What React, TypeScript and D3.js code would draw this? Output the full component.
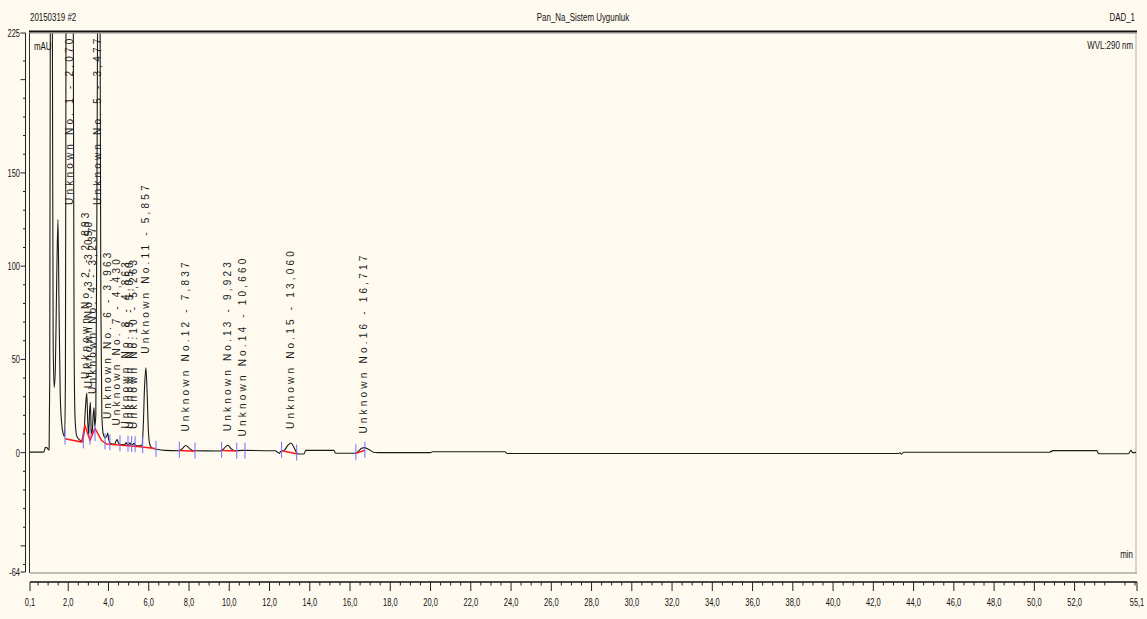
import React, { useEffect, useRef } from "react";
import * as d3 from "d3";

const WIDTH = 1147;
const HEIGHT = 619;

// chromatogram trace, [time (min), signal (mAU)]
const trace: [number, number][] = [
  [0.1, 0.3], [0.75, 0.3], [0.8, 0.6], [0.86, 2.8], [0.95, 2.6], [1.02, 1.4], [1.05, 1.6],
  [1.08, 40], [1.11, 240], [1.16, 420], [1.21, 240], [1.25, 60], [1.3, 35], [1.36, 45],
  [1.43, 95], [1.49, 125], [1.54, 80], [1.6, 32], [1.67, 16], [1.75, 10], [1.82, 8.5],
  [1.86, 40], [1.89, 240], [2.07, 600], [2.25, 240], [2.29, 60], [2.34, 18], [2.42, 9],
  [2.55, 7], [2.7, 6], [2.78, 10], [2.86, 25], [2.92, 32], [2.97, 16], [3.01, 10],
  [3.06, 22], [3.1, 27], [3.14, 12], [3.18, 10], [3.24, 20], [3.28, 24], [3.32, 14],
  [3.37, 20], [3.43, 150], [3.46, 240], [3.52, 400], [3.58, 240], [3.62, 80], [3.67, 20],
  [3.74, 10], [3.84, 8], [3.92, 9], [3.96, 10.5], [4.01, 7], [4.1, 5], [4.3, 4.5],
  [4.38, 6.2], [4.43, 7], [4.5, 5], [4.65, 4.3], [4.82, 4.4], [4.87, 5.4], [4.94, 4.3],
  [5.02, 4.5], [5.06, 5.3], [5.12, 4.3], [5.22, 4.4], [5.27, 5.2], [5.33, 4], [5.5, 3.6],
  [5.65, 3.8], [5.72, 12], [5.79, 35], [5.86, 45.5], [5.92, 32], [5.98, 12], [6.05, 4.5],
  [6.15, 2.5], [6.4, 1.8], [6.8, 1.2], [7.5, 1.0], [7.65, 2.0], [7.84, 3.8], [8.02, 2.3],
  [8.2, 1.0], [9.55, 0.9], [9.72, 2.0], [9.92, 4.0], [10.1, 2.0], [10.3, 1.0], [10.66, 1.2],
  [12.3, 1.0], [12.4, 0.2], [12.48, -0.4], [12.55, 0.6], [12.75, 1.5], [12.92, 4.0],
  [13.06, 5.2], [13.2, 3.2], [13.33, 0.3], [13.42, -0.7], [13.72, -0.7], [13.8, 1.2],
  [15.2, 1.2], [15.28, -0.3], [16.28, -0.3], [16.42, 0.8], [16.58, 2.3], [16.72, 2.7],
  [16.88, 2.0], [17.02, 1.2], [17.15, 0.2], [17.4, 0.0], [20.0, 0.0], [20.1, 0.5],
  [23.7, 0.5], [23.8, -0.5], [43.25, -0.5], [43.32, -0.1], [43.4, -0.8], [43.5, 0.2],
  [50.78, 0.2], [50.82, 0.8], [50.86, 0.5], [50.9, 1.1], [53.1, 1.1], [53.2, -0.6],
  [54.68, -0.6], [54.8, 1.2], [54.88, 0.0], [55.1, 0.2],
];

const peakNames = [
  "Unknown No. 1 - 2,070",
  "Unknown No. 2 - 2,893",
  "Unknown No. 3 - 3,050",
  "Unknown No. 4 - 3,237",
  "Unknown No. 5 - 3,477",
  "Unknown No. 6 - 3,963",
  "Unknown No. 7 - 4,430",
  "Unknown No. 8 - 4,863",
  "Unknown No. 9 - 5,050",
  "Unknown No.10 - 5,263",
  "Unknown No.11 - 5,857",
  "Unknown No.12 - 7,837",
  "Unknown No.13 - 9,923",
  "Unknown No.14 - 10,660",
  "Unknown No.15 - 13,060",
  "Unknown No.16 - 16,717",
];
const peakTimes = [
  2.07, 2.893, 3.05, 3.237, 3.477, 3.963, 4.43, 4.863, 5.05, 5.263, 5.857, 7.837, 9.923,
  10.66, 13.06, 16.717,
];

// integration start / end marks, [time, mAU]
const markerPoints: [number, number][] = [
  [1.84, 8], [2.75, 6], [3.08, 8], [3.33, 10], [3.83, 5.5], [4.07, 5], [4.57, 4.5],
  [4.97, 4.2], [5.15, 4], [5.32, 4], [5.7, 3.5], [6.36, 1.5], [7.52, 1], [8.3, 0.5],
  [9.62, 1], [10.37, 0.5], [10.78, 0.5], [12.6, 1], [13.35, -0.5], [16.29, -0.3], [16.74, 1],
];

// integration baselines
const baselineSegments: [number, number][][] = [
  [[1.84, 7.5], [2.67, 5.7], [2.83, 14.5], [3.08, 6.7], [3.33, 13], [3.66, 6.5], [3.91, 4.6],
    [5.56, 3.2], [6.31, 2.2]],
  [[7.52, 1.2], [8.3, 0.8]],
  [[9.62, 1.2], [10.37, 0.9]],
  [[12.6, 1.0], [13.35, -0.6]],
  [[16.29, -0.4], [16.74, 1.3]],
];

const xTicks = [0.1, 2, 4, 6, 8, 10, 12, 14, 16, 18, 20, 22, 24, 26, 28, 30, 32, 34, 36, 38,
  40, 42, 44, 46, 48, 50, 52, 55.1];
const yLabels = [225, 150, 100, 50, 0, -64];
const yMajor = [225, 200, 150, 100, 50, 0, -50, -64];

const NARROW = "'Liberation Sans Narrow', 'Liberation Sans', Arial, sans-serif";

const App: React.FC = () => {
  const svgRef = useRef<SVGSVGElement | null>(null);

  useEffect(() => {
    if (!svgRef.current) return;
    const svg = d3.select(svgRef.current);
    svg.selectAll("*").remove();

    const left = 30;
    const right = 1137;
    const top = 33;
    const bottom = 572;

    const x = d3.scaleLinear().domain([0.1, 55.1]).range([left, right]);
    const y = d3.scaleLinear().domain([-64, 225]).range([bottom, top]);

    svg.append("rect").attr("width", WIDTH).attr("height", HEIGHT).attr("fill", "#fffaf0");

    // narrow text helper
    const narrow = (
      g: any,
      tx: number,
      ty: number,
      txt: string,
      anchor: string,
      size = 11,
      sx = 0.72
    ) =>
      g
        .append("text")
        .attr("transform", `translate(${tx},${ty}) scale(${sx},1)`)
        .attr("text-anchor", anchor)
        .attr("font-family", NARROW)
        .attr("font-size", size)
        .attr("fill", "#111")
        .text(txt);

    // header
    narrow(svg, left, 21, "20150319 #2", "start");
    narrow(svg, 583, 21, "Pan_Na_Sistem Uygunluk", "middle");
    narrow(svg, 1135, 21, "DAD_1", "end");

    // frame
    svg.append("line").attr("x1", right - 1).attr("x2", right - 1).attr("y1", top).attr("y2", bottom + 1)
      .attr("stroke", "#c8c8c8").attr("stroke-width", 1.5);
    svg.append("line").attr("x1", left).attr("x2", right).attr("y1", bottom + 1).attr("y2", bottom + 1)
      .attr("stroke", "#a8a8a8").attr("stroke-width", 1.5);
    svg.append("line").attr("x1", left - 0.5).attr("x2", left - 0.5).attr("y1", top - 2).attr("y2", bottom + 1)
      .attr("stroke", "#333").attr("stroke-width", 1);
    svg.append("line").attr("x1", left - 1).attr("x2", right).attr("y1", top - 1.5).attr("y2", top - 1.5)
      .attr("stroke", "#111").attr("stroke-width", 2);
    svg.append("line").attr("x1", left - 1).attr("x2", right).attr("y1", top).attr("y2", top)
      .attr("stroke", "#888").attr("stroke-width", 1);

    narrow(svg, left + 4, 50, "mAU", "start", 11);
    narrow(svg, 1133, 49, "WVL:290 nm", "end", 11);
    narrow(svg, 1133, 558, "min", "end", 11);

    svg.append("clipPath").attr("id", "plot-clip").append("rect")
      .attr("x", left).attr("y", top + 0.5).attr("width", right - left - 1).attr("height", bottom - top);

    const plot = svg.append("g").attr("clip-path", "url(#plot-clip)");

    // chromatogram
    const line = d3.line<[number, number]>()
      .x((d) => x(d[0]))
      .y((d) => y(d[1]))
      .curve(d3.curveMonotoneX);

    plot.append("path").datum(trace).attr("d", line).attr("fill", "none")
      .attr("stroke", "#1a1a1a").attr("stroke-width", 1.1);

    // integration baselines
    const bl = d3.line<[number, number]>().x((d) => x(d[0])).y((d) => y(d[1]));
    baselineSegments.forEach((seg) => {
      plot.append("path").datum(seg).attr("d", bl).attr("fill", "none")
        .attr("stroke", "#ff1a1a").attr("stroke-width", 1.5);
    });

    // start / end marks
    plot.selectAll(".mark").data(markerPoints).join("line")
      .attr("class", "mark")
      .attr("x1", (d) => x(d[0])).attr("x2", (d) => x(d[0]))
      .attr("y1", (d) => y(d[1]) - 9).attr("y2", (d) => y(d[1]) + 7)
      .attr("stroke", "#6f6fff").attr("stroke-width", 1);

    // peak labels
    const apexAt = (t: number) => {
      const near = trace.filter((d) => Math.abs(d[0] - t) <= 0.08);
      return d3.max(near, (d) => d[1]) ?? 0;
    };
    peakNames.forEach((name, i) => {
      const t = peakTimes[i];
      const apexY = y(apexAt(t));
      const startY = apexY < top + 20 ? 205 : apexY - 14;
      plot.append("text")
        .attr("transform", `translate(${x(t) + 3},${startY}) rotate(-90)`)
        .attr("font-family", "'Liberation Sans', Arial, sans-serif")
        .attr("font-size", 10)
        .attr("letter-spacing", 3.2)
        .attr("fill", "#1a1a1a")
        .text(name);
    });

    // x axis
    const axisY = 582;
    svg.append("line").attr("x1", left).attr("x2", right).attr("y1", axisY).attr("y2", axisY)
      .attr("stroke", "#111").attr("stroke-width", 1.5);
    const minor = d3.range(0.5, 55.01, 0.5).filter((v) => v % 2 !== 0);
    svg.selectAll(".xminor").data(minor).join("line")
      .attr("class", "xminor")
      .attr("x1", (d) => x(d)).attr("x2", (d) => x(d))
      .attr("y1", axisY).attr("y2", axisY + 3.5)
      .attr("stroke", "#222").attr("stroke-width", 1);
    svg.selectAll(".xmajor").data(xTicks).join("line")
      .attr("class", "xmajor")
      .attr("x1", (d) => x(d)).attr("x2", (d) => x(d))
      .attr("y1", axisY).attr("y2", axisY + 9)
      .attr("stroke", "#222").attr("stroke-width", 1);
    xTicks.forEach((v) => {
      narrow(svg, x(v), 606, d3.format(".1f")(v).replace(".", ","), "middle", 11, 0.68);
    });

    // y axis
    const yAxisX = 25.5;
    svg.append("line").attr("x1", yAxisX).attr("x2", yAxisX).attr("y1", top).attr("y2", bottom)
      .attr("stroke", "#222").attr("stroke-width", 1);
    const yMinor = d3.range(-60, 211, 10).filter((v) => v % 50 !== 0);
    svg.selectAll(".yminor").data(yMinor).join("line")
      .attr("class", "yminor")
      .attr("x1", yAxisX - 2.5).attr("x2", yAxisX)
      .attr("y1", (d) => y(d)).attr("y2", (d) => y(d))
      .attr("stroke", "#222").attr("stroke-width", 1);
    svg.selectAll(".ymajor").data(yMajor).join("line")
      .attr("class", "ymajor")
      .attr("x1", yAxisX - 5).attr("x2", yAxisX)
      .attr("y1", (d) => y(d)).attr("y2", (d) => y(d))
      .attr("stroke", "#222").attr("stroke-width", 1);
    yLabels.forEach((v) => {
      narrow(svg, 20, y(v) + 4, String(v), "end", 11, 0.68);
    });
  }, []);

  return (
    <div style={{ position: "absolute", left: 0, top: 0 }}>
      <svg ref={svgRef} width={WIDTH} height={HEIGHT} style={{ display: "block" }} />
    </div>
  );
};

export default App;
